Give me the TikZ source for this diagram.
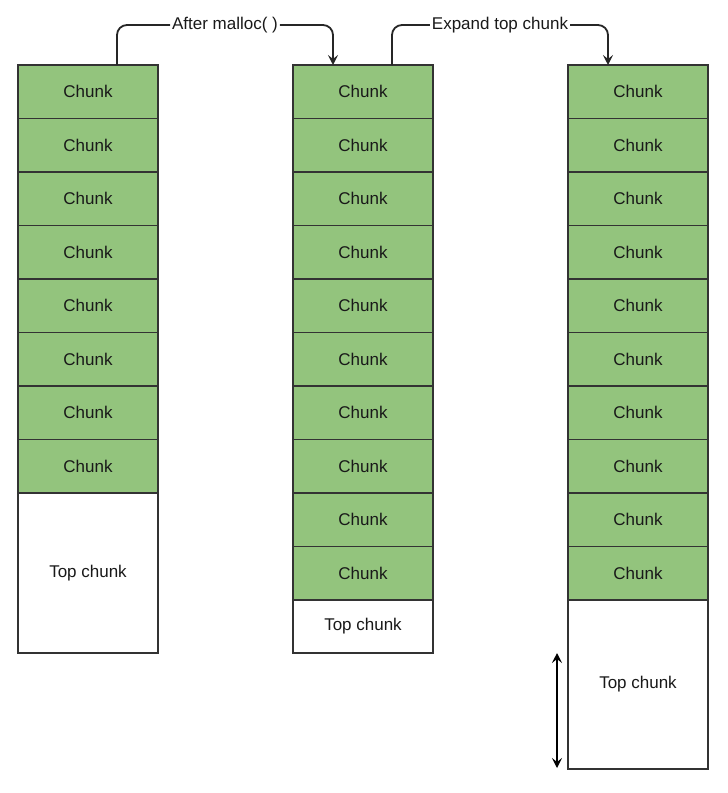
\documentclass[tikz,border=0pt]{standalone}
\usepackage{fontspec}
\setmainfont{Liberation Sans}
\usetikzlibrary{arrows.meta}
\definecolor{chunkgreen}{HTML}{93C47D}
\definecolor{edgegray}{HTML}{333333}
\begin{document}
\begin{tikzpicture}[x=1pt,y=-1pt,
  box/.style={draw=edgegray, line width=1.8pt, minimum width=140pt, inner sep=0pt, outer sep=0pt,
    anchor=north west, font=\fontsize{17}{20}\selectfont, text=black!90},
  chunk/.style={box, fill=chunkgreen, minimum height=53.5pt},
  topbox/.style={box, fill=white},
  tip/.style={Stealth[length=10pt,width=10pt,inset=4pt]},
  conn/.style={draw=black!85, line width=1.8pt, rounded corners=10pt, -{Stealth[length=10pt,width=10pt,inset=4pt]}},
  lab/.style={fill=white, inner sep=2pt, font=\fontsize{17}{20}\selectfont, text=black!90},
  dbl/.style={draw=black, line width=1.8pt, {Stealth[length=10pt,width=10pt,inset=4pt]}-{Stealth[length=10pt,width=10pt,inset=4pt]}}]
\useasboundingbox (0,0) rectangle (728,793);
% column 1
\foreach \i in {1,...,8} \node[chunk] (a\i) at (18,{65+(\i-1)*53.5}) {Chunk};
\node[topbox, minimum height=160pt] (atop) at (18,493) {Top chunk};
% column 2
\foreach \i in {1,...,10} \node[chunk] (b\i) at (293,{65+(\i-1)*53.5}) {Chunk};
\node[topbox, minimum height=53pt] (btop) at (293,600) {Top chunk};
% column 3
\foreach \i in {1,...,10} \node[chunk] (c\i) at (568,{65+(\i-1)*53.5}) {Chunk};
\node[topbox, minimum height=169pt] (ctop) at (568,600) {Top chunk};
% connectors
\draw[conn] ([xshift=29pt]a1.north) -- ([xshift=29pt]a1.north |- 0,25)
  -- node[lab] {After malloc( )} ([xshift=-30pt]b1.north |- 0,25) -- ([xshift=-30pt]b1.north);
\draw[conn] ([xshift=29pt]b1.north) -- ([xshift=29pt]b1.north |- 0,25)
  -- node[lab] {Expand top chunk} ([xshift=-30pt]c1.north |- 0,25) -- ([xshift=-30pt]c1.north);
% double arrow
\coordinate (d1) at (557,653);
\coordinate (d2) at (557,768);
\draw[dbl] (d1) -- (d2);
\end{tikzpicture}
\end{document}
